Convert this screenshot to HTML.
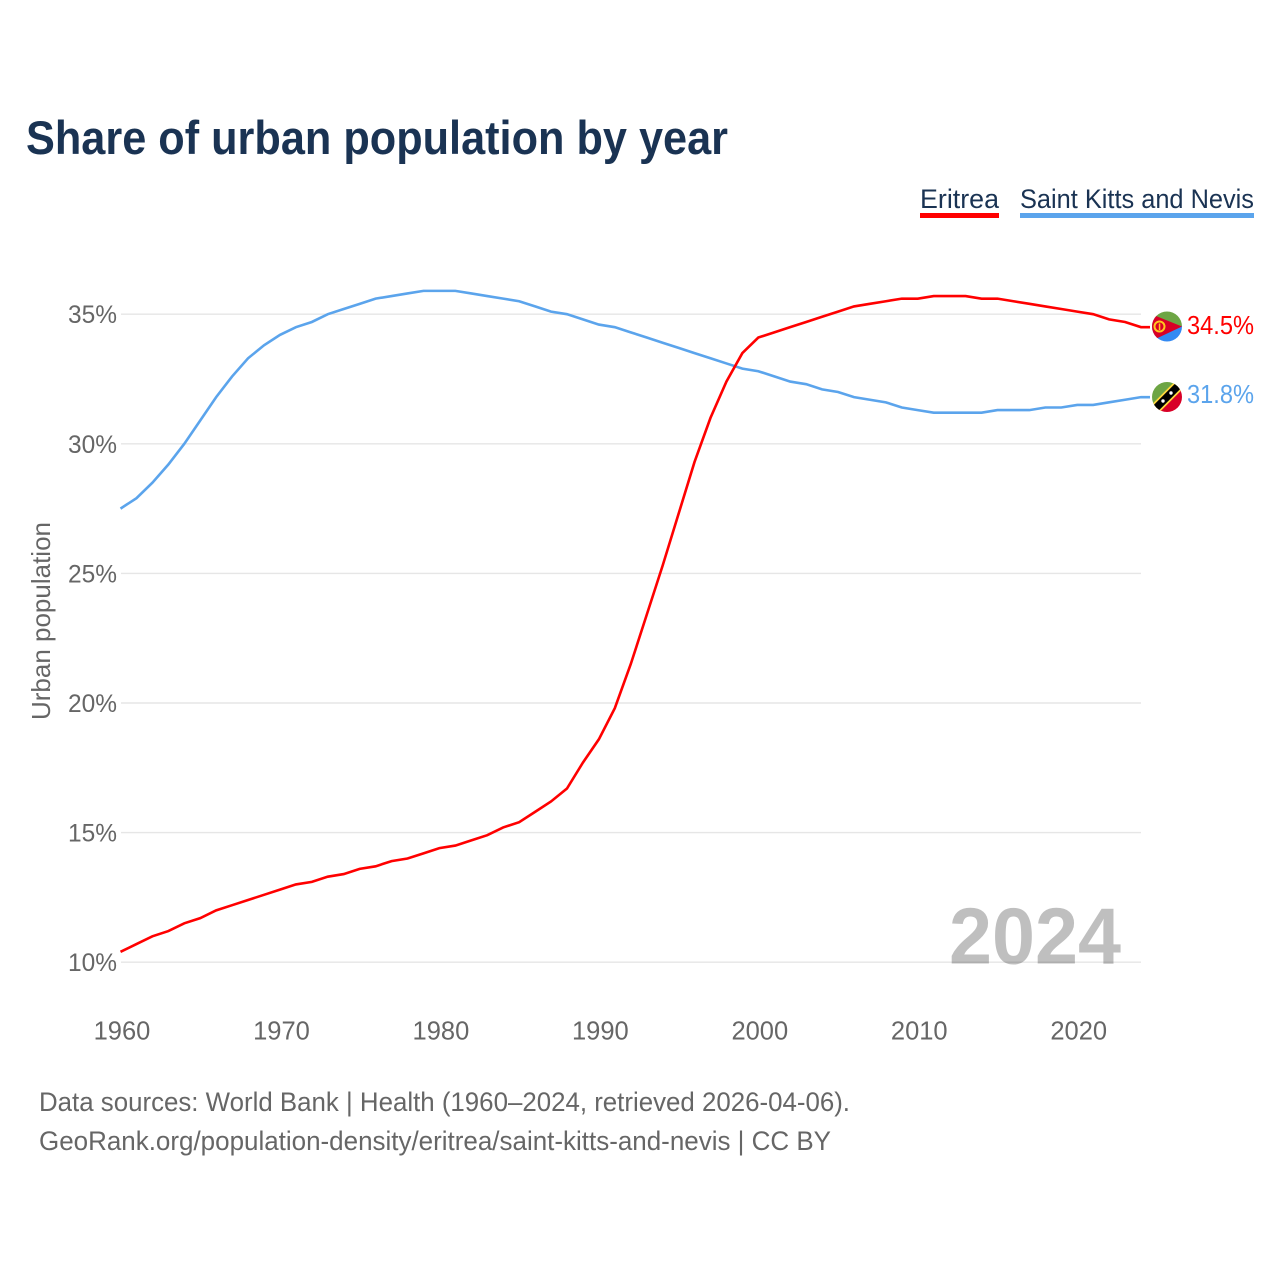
<!DOCTYPE html>
<html lang="en">
<head>
<meta charset="utf-8">
<title>Share of urban population by year</title>
<style>
html,body{margin:0;padding:0;background:#fff;width:1280px;height:1280px;overflow:hidden}
svg{display:block}
text{font-family:"Liberation Sans",sans-serif}
</style>
</head>
<body>
<svg id="chart" xmlns="http://www.w3.org/2000/svg" width="1280" height="1280" viewBox="0 0 1280 1280">
  <defs>
    <clipPath id="flag-clip-er"><circle cx="1167" cy="326.5" r="15"/></clipPath>
    <clipPath id="flag-clip-kn"><circle cx="1167" cy="397" r="15"/></clipPath>
  </defs>
  <text x="26" y="154" font-size="47" font-weight="700" fill="#1a3353" textLength="702" lengthAdjust="spacingAndGlyphs">Share of urban population by year</text>

  <g>
    <g>
      <text x="920" y="208" font-size="27" fill="#1a3353" textLength="79" lengthAdjust="spacingAndGlyphs">Eritrea</text>
      <rect x="920" y="213" width="79" height="5" fill="#ff0000"/>
    </g>
    <g>
      <text x="1020" y="208" font-size="27" fill="#1a3353" textLength="234" lengthAdjust="spacingAndGlyphs">Saint Kitts and Nevis</text>
      <rect x="1020" y="213" width="234" height="5" fill="#5ba4ec"/>
    </g>
  </g>

  <g id="grid"></g>
  <g id="y-axis"></g>
  <g id="x-axis"></g>

  <text transform="translate(50,720) rotate(-90)" x="0" y="0" font-size="26" fill="#666666" textLength="198" lengthAdjust="spacingAndGlyphs">Urban population</text>

  <text x="949" y="963.5" font-size="80" font-weight="700" fill="#000000" fill-opacity="0.25" textLength="172" lengthAdjust="spacingAndGlyphs">2024</text>

  <g id="series"></g>

  <g clip-path="url(#flag-clip-er)">
    <rect x="1151" y="310" width="32" height="17" fill="#6da544"/>
    <rect x="1151" y="326" width="32" height="17" fill="#338af3"/>
    <polygon points="1150,313.5 1182,326.5 1150,341.5" fill="#d80027"/>
    <circle cx="1159.5" cy="326.5" r="5" fill="none" stroke="#ffc61e" stroke-width="2"/>
    <rect x="1158.8" y="323.5" width="1.5" height="6.5" fill="#ffc61e"/>
  </g>
  <g clip-path="url(#flag-clip-kn)">
    <polygon points="1150,380 1184,380 1150,414" fill="#6da544"/>
    <polygon points="1184,380 1184,414 1150,414" fill="#d80027"/>
    <line x1="1152" y1="412" x2="1182" y2="382" stroke="#ffd83d" stroke-width="11"/>
    <line x1="1152" y1="412" x2="1182" y2="382" stroke="#000000" stroke-width="7.5"/>
    <circle cx="1163" cy="401" r="1.7" fill="#ffffff"/>
    <circle cx="1171" cy="393" r="1.7" fill="#ffffff"/>
  </g>

  <text x="1187" y="334" font-size="26" fill="#ff0000" textLength="67" lengthAdjust="spacingAndGlyphs">34.5%</text>
  <text x="1187" y="403" font-size="26" fill="#5ba4ec" textLength="67" lengthAdjust="spacingAndGlyphs">31.8%</text>

  <g>
    <text x="39" y="1111" font-size="27" fill="#666666" textLength="811" lengthAdjust="spacingAndGlyphs">Data sources: World Bank | Health (1960–2024, retrieved 2026-04-06).</text>
    <text x="39" y="1150" font-size="27" fill="#666666" textLength="792" lengthAdjust="spacingAndGlyphs">GeoRank.org/population-density/eritrea/saint-kitts-and-nevis | CC BY</text>
  </g>
</svg>
<script>
const years = [1960,1961,1962,1963,1964,1965,1966,1967,1968,1969,1970,1971,1972,1973,1974,1975,1976,1977,1978,1979,1980,1981,1982,1983,1984,1985,1986,1987,1988,1989,1990,1991,1992,1993,1994,1995,1996,1997,1998,1999,2000,2001,2002,2003,2004,2005,2006,2007,2008,2009,2010,2011,2012,2013,2014,2015,2016,2017,2018,2019,2020,2021,2022,2023,2024];
const eritrea = [10.4,10.7,11.0,11.2,11.5,11.7,12.0,12.2,12.4,12.6,12.8,13.0,13.1,13.3,13.4,13.6,13.7,13.9,14.0,14.2,14.4,14.5,14.7,14.9,15.2,15.4,15.8,16.2,16.7,17.7,18.6,19.8,21.5,23.4,25.3,27.3,29.3,31.0,32.4,33.5,34.1,34.3,34.5,34.7,34.9,35.1,35.3,35.4,35.5,35.6,35.6,35.7,35.7,35.7,35.6,35.6,35.5,35.4,35.3,35.2,35.1,35.0,34.8,34.7,34.5];
const saintKitts = [27.5,27.9,28.5,29.2,30.0,30.9,31.8,32.6,33.3,33.8,34.2,34.5,34.7,35.0,35.2,35.4,35.6,35.7,35.8,35.9,35.9,35.9,35.8,35.7,35.6,35.5,35.3,35.1,35.0,34.8,34.6,34.5,34.3,34.1,33.9,33.7,33.5,33.3,33.1,32.9,32.8,32.6,32.4,32.3,32.1,32.0,31.8,31.7,31.6,31.4,31.3,31.2,31.2,31.2,31.2,31.3,31.3,31.3,31.4,31.4,31.5,31.5,31.6,31.7,31.8];
const yTicks = [10,15,20,25,30,35];
const xTicks = [1960,1970,1980,1990,2000,2010,2020];

const NS = 'http://www.w3.org/2000/svg';
const xScale = function (year) { return 120.5 + (year - 1960) * (1141 - 120.5) / 64; };
const yScale = function (value) { return 962.2 - (value - 10) * 25.92; };

const gridGroup = document.getElementById('grid');
const yAxisGroup = document.getElementById('y-axis');
const xAxisGroup = document.getElementById('x-axis');
const seriesGroup = document.getElementById('series');

yTicks.forEach(function (tick) {
  const line = document.createElementNS(NS, 'line');
  
  
  line.setAttribute('x1', 121);
  line.setAttribute('x2', 1141);
  line.setAttribute('y1', yScale(tick));
  line.setAttribute('y2', yScale(tick));
  line.setAttribute('stroke', '#e6e6e6');
  line.setAttribute('stroke-width', '1.4');
  gridGroup.appendChild(line);

  const label = document.createElementNS(NS, 'text');
  
  
  label.setAttribute('x', 117);
  label.setAttribute('y', yScale(tick) + 9);
  label.setAttribute('text-anchor', 'end');
  label.setAttribute('font-size', '25');
  label.setAttribute('fill', '#666666');
  label.setAttribute('textLength', '49');
  label.setAttribute('lengthAdjust', 'spacingAndGlyphs');
  label.textContent = tick + '%';
  yAxisGroup.appendChild(label);
});

xTicks.forEach(function (tick) {
  const label = document.createElementNS(NS, 'text');
  
  
  label.setAttribute('x', xScale(tick) + 1.5);
  label.setAttribute('y', 1039.5);
  label.setAttribute('text-anchor', 'middle');
  label.setAttribute('font-size', '25.5');
  label.setAttribute('fill', '#666666');
  label.textContent = String(tick);
  xAxisGroup.appendChild(label);
});

function linePath(values) {
  let d = values.map(function (v, i) {
    return (i ? 'L' : 'M') + xScale(years[i]).toFixed(2) + ' ' + yScale(v).toFixed(2);
  }).join(' ');
  d += ' H1150';
  return d;
}

const lineSaintKitts = document.createElementNS(NS, 'path');


lineSaintKitts.setAttribute('d', linePath(saintKitts));
lineSaintKitts.setAttribute('fill', 'none');
lineSaintKitts.setAttribute('stroke', '#5ba4ec');
lineSaintKitts.setAttribute('stroke-width', '2.6');
seriesGroup.appendChild(lineSaintKitts);

const lineEritrea = document.createElementNS(NS, 'path');


lineEritrea.setAttribute('d', linePath(eritrea));
lineEritrea.setAttribute('fill', 'none');
lineEritrea.setAttribute('stroke', '#ff0000');
lineEritrea.setAttribute('stroke-width', '2.6');
seriesGroup.appendChild(lineEritrea);
</script>
</body>
</html>
